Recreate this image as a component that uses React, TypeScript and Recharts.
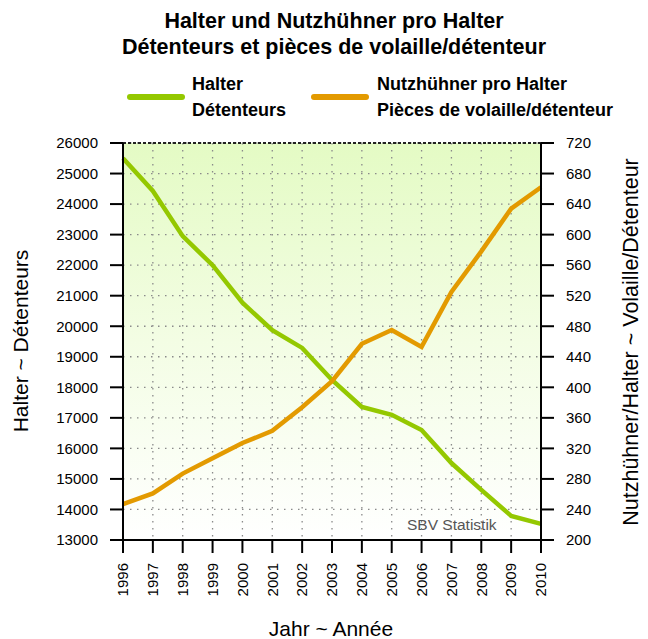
import React from 'react';
import { LineChart, Line, XAxis, YAxis, CartesianGrid, ReferenceLine } from 'recharts';

const years = [1996, 1997, 1998, 1999, 2000, 2001, 2002, 2003, 2004, 2005, 2006, 2007, 2008, 2009, 2010];
const halter = [25500, 24430, 22950, 22000, 20770, 19870, 19290, 18240, 17360, 17100, 16600, 15520, 14640, 13790, 13530];
const huehnerProHalter = [247, 261, 287, 307, 327, 343, 374, 408, 457, 475, 453, 525, 578, 634, 662];
const leftTicks = [13000, 14000, 15000, 16000, 17000, 18000, 19000, 20000, 21000, 22000, 23000, 24000, 25000, 26000];
const rightTicks = [200, 240, 280, 320, 360, 400, 440, 480, 520, 560, 600, 640, 680, 720];

const data = years.map((y, i) => ({ year: y, halter: halter[i], pro: huehnerProHalter[i] }));

const FONT = '"Liberation Sans", Arial, Helvetica, sans-serif';
const GREEN = '#94c800';
const ORANGE = '#e39a00';

const XTick = (props: any) => {
  const { x, y, payload } = props;
  return (
    <g transform={`translate(${x},${y})`}>
      <text transform="rotate(-90)" x={-8} y={0} dy="0.35em" textAnchor="end" fontSize={15} fontFamily={FONT} fill="#000">
        {payload.value}
      </text>
    </g>
  );
};

export default function App() {
  return (
    <div style={{ position: 'absolute', left: 0, top: 0, width: 648, height: 639, background: '#fff', fontFamily: FONT }}>
      <div style={{ position: 'absolute', left: 123, top: 143, width: 418, height: 397, background: 'linear-gradient(to bottom, #e4fbc4 0%, #f3fde4 50%, #ffffff 100%)' }} />
      <svg width={648} height={639} style={{ position: 'absolute', left: 0, top: 0 }}>
        <text x={334} y={28} textAnchor="middle" fontSize={21.5} fontWeight="bold" fontFamily={FONT}>Halter und Nutzhühner pro Halter</text>
        <text x={334} y={54} textAnchor="middle" fontSize={21.5} fontWeight="bold" fontFamily={FONT}>Détenteurs et pièces de volaille/détenteur</text>
        <line x1={130} y1={97} x2={182} y2={97} stroke={GREEN} strokeWidth={6} strokeLinecap="round" />
        <text x={192} y={90} fontSize={18} fontWeight="bold" fontFamily={FONT}>Halter</text>
        <text x={192} y={116} fontSize={18} fontWeight="bold" fontFamily={FONT}>Détenteurs</text>
        <line x1={314} y1={97} x2={366} y2={97} stroke={ORANGE} strokeWidth={6} strokeLinecap="round" />
        <text x={377} y={90} fontSize={18} fontWeight="bold" fontFamily={FONT}>Nutzhühner pro Halter</text>
        <text x={377} y={116} fontSize={18} fontWeight="bold" fontFamily={FONT}>Pièces de volaille/détenteur</text>
        <text transform="translate(28,341) rotate(-90)" textAnchor="middle" fontSize={21} fontFamily={FONT}>Halter ~ Détenteurs</text>
        <text transform="translate(638,342) rotate(-90)" textAnchor="middle" fontSize={21.5} fontFamily={FONT}>Nutzhühner/Halter ~ Volaille/Détenteur</text>
        <text x={331} y={636} textAnchor="middle" fontSize={21} fontFamily={FONT}>Jahr ~ Année</text>
        <text x={407} y={530} fontSize={15.5} fontFamily={FONT} fill="#555">SBV Statistik</text>
      </svg>
      <div style={{ position: 'absolute', left: 0, top: 0 }}>
        <LineChart width={648} height={639} data={data} margin={{ top: 143, right: 47, bottom: 49, left: 63 }}>
          <CartesianGrid yAxisId="left" stroke="#8a8a8a" strokeDasharray="1.5 5.5" strokeWidth={1.3} fill="none" />
          <XAxis
            dataKey="year"
            type="number"
            domain={[1996, 2010]}
            ticks={years}
            interval={0}
            height={50}
            tickSize={13}
            tickMargin={2}
            tick={<XTick />}
            axisLine={{ stroke: '#000', strokeWidth: 2 }}
            tickLine={{ stroke: '#000', strokeWidth: 2 }}
          />
          <YAxis
            yAxisId="left"
            domain={[13000, 26000]}
            ticks={leftTicks}
            interval={0}
            width={60}
            tickSize={13}
            tickMargin={12}
            tick={{ fontSize: 15, fill: '#000', fontFamily: FONT }}
            axisLine={{ stroke: '#000', strokeWidth: 2 }}
            tickLine={{ stroke: '#000', strokeWidth: 2 }}
          />
          <YAxis
            yAxisId="right"
            orientation="right"
            domain={[200, 720]}
            ticks={rightTicks}
            interval={0}
            width={60}
            tickSize={13}
            tickMargin={12}
            tick={{ fontSize: 15, fill: '#000', fontFamily: FONT, textAnchor: 'start' }}
            axisLine={{ stroke: '#000', strokeWidth: 2 }}
            tickLine={{ stroke: '#000', strokeWidth: 2 }}
          />
          <ReferenceLine yAxisId="left" y={26000} stroke="#222" strokeWidth={2} strokeDasharray="3 2" />
          <Line yAxisId="left" dataKey="halter" stroke={GREEN} strokeWidth={4.5} dot={false} isAnimationActive={false} />
          <Line yAxisId="right" dataKey="pro" stroke={ORANGE} strokeWidth={4.5} dot={false} isAnimationActive={false} />
        </LineChart>
      </div>
    </div>
  );
}
